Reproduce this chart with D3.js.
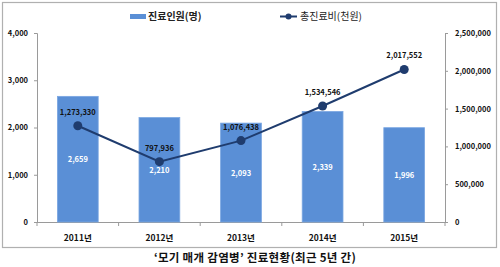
<!DOCTYPE html>
<html><head><meta charset="utf-8">
<script src="https://cdn.jsdelivr.net/npm/d3@7"></script>
<style>body{margin:0;background:#fff}svg{display:block}text{font-family:"Noto Sans CJK KR","Noto Sans",sans-serif}</style>
</head><body>
<svg id="c" width="500" height="267"></svg>
<script>
const categories = ["2011년","2012년","2013년","2014년","2015년"];
const patients = [2659, 2210, 2093, 2339, 1996];
const costs = [1273330, 797936, 1076438, 1534546, 2017552];
const leftTicks = [0, 1000, 2000, 3000, 4000];
const rightTicks = [0, 500000, 1000000, 1500000, 2000000, 2500000];
const barName = "진료인원(명)";
const lineName = "총진료비(천원)";
const title = "‘모기 매개 감염병’ 진료현황(최근 5년 간)";

const svg = d3.select("#c");
const fmt = d3.format(",");
const barColor = "#5A8FD6", lineColor = "#1F3C6E", axisColor = "#9a9a9a";

svg.append("rect").attr("x",2.5).attr("y",2.5).attr("width",494).attr("height",245)
  .attr("fill","#fff").attr("stroke","#b0b0b0").attr("stroke-width",1.2);

const x = d3.scaleBand().domain(categories).range([37,445]).paddingInner(0.5).paddingOuter(0.25);
const yL = d3.scaleLinear().domain([0,4000]).range([222,33]);
const yR = d3.scaleLinear().domain([0,2500000]).range([222,33]);

const gl = svg.append("g").attr("transform","translate(37,0)")
  .call(d3.axisLeft(yL).tickValues(leftTicks).tickFormat(fmt).tickSize(3).tickPadding(6));
const gr = svg.append("g").attr("transform","translate(445,0)")
  .call(d3.axisRight(yR).tickValues(rightTicks).tickFormat(fmt).tickSize(3).tickPadding(7));
[gl,gr].forEach(g=>{
  g.selectAll("path,line").attr("stroke",axisColor);
  g.selectAll("text").attr("font-weight","bold").attr("fill","#111").attr("font-family","Verdana,'DejaVu Sans',sans-serif").style("font-size","7.5px");
});

const edges = categories.map(c=>x(c)-x.step()*x.paddingInner()/2);
edges.push(445);
const gb = svg.append("g");
gb.append("line").attr("x1",37).attr("x2",445).attr("y1",222.5).attr("y2",222.5).attr("stroke",axisColor);
gb.selectAll("line.t").data(edges).join("line").attr("class","t")
  .attr("x1",d=>d).attr("x2",d=>d).attr("y1",222).attr("y2",226).attr("stroke",axisColor);
gb.selectAll("text").data(categories).join("text")
  .attr("x",d=>x(d)+x.bandwidth()/2).attr("y",241).attr("text-anchor","middle")
  .attr("font-size",8.5).attr("font-weight","bold").attr("fill","#111").text(d=>d);

svg.append("g").selectAll("rect").data(patients).join("rect")
  .attr("x",(d,i)=>x(categories[i])).attr("width",x.bandwidth())
  .attr("y",d=>yL(d)).attr("height",d=>yL(0)-yL(d))
  .attr("fill",barColor).attr("stroke","#7BA7E2").attr("stroke-width",0.8);
svg.append("g").selectAll("text").data(patients).join("text")
  .attr("x",(d,i)=>x(categories[i])+x.bandwidth()/2)
  .attr("y",d=>(yL(d)+yL(0))/2+3).attr("text-anchor","middle")
  .attr("font-family","Verdana,'DejaVu Sans',sans-serif").style("font-size","7.5px").attr("font-weight","bold").attr("fill","#fff").text(d=>fmt(d));

const cx = (d,i)=>x(categories[i])+x.bandwidth()/2;
svg.append("path").datum(costs)
  .attr("d",d3.line().x(cx).y(d=>yR(d)))
  .attr("fill","none").attr("stroke",lineColor).attr("stroke-width",2);
svg.append("g").selectAll("circle").data(costs).join("circle")
  .attr("cx",cx).attr("cy",d=>yR(d)).attr("r",4.5).attr("fill",lineColor);
svg.append("g").selectAll("text").data(costs).join("text")
  .attr("x",cx).attr("y",d=>yR(d)-11).attr("text-anchor","middle")
  .attr("font-family","Verdana,'DejaVu Sans',sans-serif").style("font-size","7.5px").attr("font-weight","bold").attr("fill","#111").text(d=>fmt(d));

svg.append("rect").attr("x",130).attr("y",14).attr("width",16).attr("height",5).attr("fill",barColor);
svg.append("text").attr("x",148).attr("y",20).attr("font-size",10).attr("font-weight","bold").attr("fill","#222").text(barName);
svg.append("line").attr("x1",280).attr("x2",297).attr("y1",16.5).attr("y2",16.5).attr("stroke",lineColor).attr("stroke-width",2);
svg.append("circle").attr("cx",288.5).attr("cy",16.5).attr("r",3).attr("fill",lineColor);
svg.append("text").attr("x",300).attr("y",20).attr("font-size",10).attr("fill","#222").text(lineName);

svg.append("text").attr("x",255).attr("y",262).attr("text-anchor","middle")
  .attr("font-size",11.5).attr("font-weight","bold").attr("letter-spacing",0.3).attr("fill","#111").text(title);
</script>
</body></html>
